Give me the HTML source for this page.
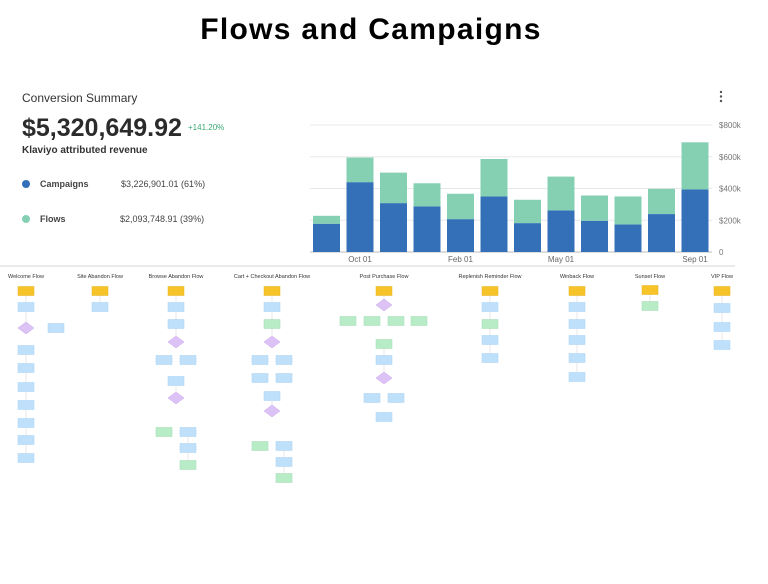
<!DOCTYPE html>
<html><head><meta charset="utf-8"><style>
html,body{margin:0;padding:0;background:#fff;width:768px;height:584px;overflow:hidden}
svg{display:block;font-family:"Liberation Sans",sans-serif}
</style></head><body>
<svg id="root" width="768" height="584" viewBox="0 0 768 584">
<text x="371" y="39" text-anchor="middle" font-size="30" font-weight="bold" letter-spacing="1.3" fill="#000">Flows and Campaigns</text>
<text x="22" y="102" font-size="12" fill="#333">Conversion Summary</text>
<g><circle cx="721" cy="92" r="1.2" fill="#555"/><circle cx="721" cy="96.5" r="1.2" fill="#555"/><circle cx="721" cy="101" r="1.2" fill="#555"/></g>
<text x="22" y="136" font-size="25" font-weight="bold" fill="#2b2b2b">$5,320,649.92</text>
<text x="188" y="130" font-size="8" fill="#3aa876">+141.20%</text>
<text x="22" y="153" font-size="10" font-weight="bold" fill="#333">Klaviyo attributed revenue</text>
<g><circle cx="26" cy="184" r="4" fill="#3470b8"/><text x="40" y="187" font-size="9" font-weight="bold" fill="#444">Campaigns</text><text x="121" y="187" font-size="9" fill="#444">$3,226,901.01  (61%)</text></g>
<g><circle cx="26" cy="219" r="4" fill="#85d0b3"/><text x="40" y="222" font-size="9" font-weight="bold" fill="#444">Flows</text><text x="120" y="222" font-size="9" fill="#444">$2,093,748.91  (39%)</text></g>
<g id="chart"></g>
<line x1="0" y1="266" x2="735" y2="266" stroke="#e4e4e4" stroke-width="1.5"/>
<g id="flows"></g>
</svg>
<script>
const categories=["Aug","Oct 01","Nov","Dec","Feb 01","Mar","Apr","May 01","Jun","Jul","Aug2","Sep 01"];
const campaigns=[178,440,308,287,207,350,182,262,197,174,239,394];
const flowsVals=[50,155,192,146,160,236,147,213,159,176,159,297];
const yTicks=[0,200,400,600,800];
const yTickLabels=["0","$200k","$400k","$600k","$800k"];
const xLabelIdx=[1,4,7,11];
const NS="http://www.w3.org/2000/svg";
function mk(t,a,p){const e=document.createElementNS(NS,t);for(const k in a)e.setAttribute(k,a[k]);p.appendChild(e);return e;}
const chart=document.getElementById('chart');
const y0=252,pxPerK=127/800,x0=313,pitch=33.5,bw=27;
function ys(v){return y0-v*pxPerK;}
function xs(i){return x0+i*pitch;}
yTicks.forEach((t,i)=>{
  const l=mk('line',{x1:310,x2:712,y1:ys(t),y2:ys(t),stroke:i===0?'#bbb':'#e8e8e8','stroke-width':1},chart);
  
  
  const tx=mk('text',{x:719,y:ys(t)+3,'font-size':8,fill:'#777'},chart);
  tx.textContent=yTickLabels[i];
  
  
});
categories.forEach((c,i)=>{
  const b=mk('rect',{x:xs(i),y:ys(campaigns[i]),width:bw,height:campaigns[i]*pxPerK,fill:'#3470b8'},chart);
  
  
  const f=mk('rect',{x:xs(i),y:ys(campaigns[i]+flowsVals[i]),width:bw,height:flowsVals[i]*pxPerK,fill:'#85d0b3'},chart);
  
  
});
xLabelIdx.forEach(i=>{
  const t=mk('text',{x:xs(i)+bw/2,y:262,'text-anchor':'middle','font-size':8,fill:'#666'},chart);
  t.textContent=categories[i];
  
  
});
const fl=document.getElementById('flows');
const C={y:'#f6c429',b:'#bfe0fb',g:'#b8ecc7',d:'#dcc2f5'};
const diagrams=[
 ["Welcome Flow",26,[['y',26,291],['b',26,307],['d',26,328],['b',56,328],['b',26,350],['b',26,368],['b',26,387],['b',26,405],['b',26,423],['b',26,440],['b',26,458]]],
 ["Site Abandon Flow",100,[['y',100,291],['b',100,307]]],
 ["Browse Abandon Flow",176,[['y',176,291],['b',176,307],['b',176,324],['d',176,342],['b',164,360],['b',188,360],['b',176,381],['d',176,398],['g',164,432],['b',188,432],['b',188,448],['g',188,465]]],
 ["Cart + Checkout Abandon Flow",272,[['y',272,291],['b',272,307],['g',272,324],['d',272,342],['b',260,360],['b',284,360],['b',260,378],['b',284,378],['b',272,396],['d',272,411],['g',260,446],['b',284,446],['b',284,462],['g',284,478]]],
 ["Post Purchase Flow",384,[['y',384,291],['d',384,305],['g',348,321],['g',372,321],['g',396,321],['g',419,321],['g',384,344],['b',384,360],['d',384,378],['b',372,398],['b',396,398],['b',384,417]]],
 ["Replenish Reminder Flow",490,[['y',490,291],['b',490,307],['g',490,324],['b',490,340],['b',490,358]]],
 ["Winback Flow",577,[['y',577,291],['b',577,307],['b',577,324],['b',577,340],['b',577,358],['b',577,377]]],
 ["Sunset Flow",650,[['y',650,290],['g',650,306]]],
 ["VIP Flow",722,[['y',722,291],['b',722,308],['b',722,327],['b',722,345]]]
];
diagrams.forEach(([name,cx,nodes])=>{
  const g=mk('g',{},fl);
  
  
  const t=mk('text',{x:cx,y:278,'text-anchor':'middle','font-size':5.5,fill:'#333'},g);
  t.textContent=name;
  for(let i=1;i<nodes.length;i++){
    const a=nodes[i-1],b=nodes[i];
    if(a[1]===b[1]) mk('line',{x1:a[1],y1:a[2],x2:b[1],y2:b[2],stroke:'#ddd','stroke-width':0.7},g);
  }
  nodes.forEach(([k,x,y])=>{
    let e;
    if(k==='d') e=mk('polygon',{points:`${x},${y-6} ${x+8},${y} ${x},${y+6} ${x-8},${y}`,fill:C.d,stroke:'#c7a6ee','stroke-width':0.5},g);
    else e=mk('rect',{x:x-8,y:y-4.5,width:16,height:9,fill:C[k],stroke:k==='y'?'#e5b31b':(k==='g'?'#9fdcb0':'#a6d2f6'),'stroke-width':0.5},g);
    
    
  });
});
</script>
</body></html>
